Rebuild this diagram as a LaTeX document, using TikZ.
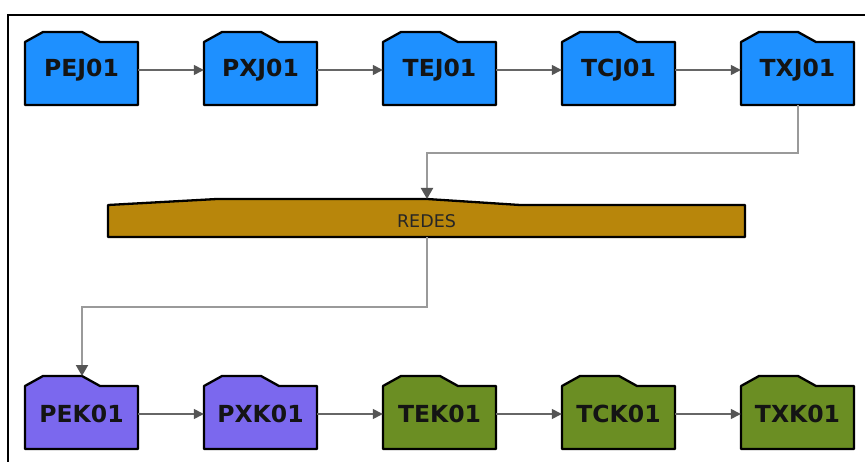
\documentclass[tikz,border=0pt]{standalone}
\usepackage{fontspec}
\setmainfont{DejaVu Sans}
\usetikzlibrary{arrows.meta,calc}
\definecolor{fblue}{HTML}{1E90FF}
\definecolor{fpurple}{HTML}{7B68EE}
\definecolor{fgreen}{HTML}{6B8E23}
\definecolor{fgold}{HTML}{B8860B}
\definecolor{linegray}{HTML}{666666}
\definecolor{conngray}{HTML}{9A9A9A}
\definecolor{tipgray}{HTML}{555555}
\tikzset{
  foldshape/.style={draw=black, line width=2.3pt, line join=round},
  foldtext/.style={font=\fontsize{23.5}{25}\bfseries\selectfont, text=black!92, minimum width=113pt, minimum height=70pt, inner sep=0pt},
  flow/.style={draw=linegray, line width=1.4pt, -{Triangle[length=10pt,width=10pt,color=tipgray]}},
  conn/.style={draw=conngray, line width=2pt, -{Triangle[length=11pt,width=12pt,color=tipgray]}},
  barshape/.style={fill=fgold, draw=black, line width=2.3pt, line join=round},
  bartext/.style={font=\fontsize{17.5}{19}\selectfont, text=black!85, minimum width=637pt, minimum height=32pt, inner sep=0pt}
}
\newcommand{\fold}[5]{%
  \filldraw[foldshape, fill=#4] (#2,#3+10) -- ++(18,-10) -- ++(39,0) -- ++(18,10) -- ++(38,0) -- ++(0,63) -- ++(-113,0) -- cycle;
  \node[foldtext] (#1) at (#2+56.5,#3+38) {#5};
  \coordinate (#1tab) at (#2+57,#3);
}
\begin{document}
\begin{tikzpicture}[x=1pt,y=-1pt]
\useasboundingbox (0,0) rectangle (865,462);
\fill[white] (0,0) rectangle (865,462);
\draw[line width=2.3pt] (8,462) -- (8,15) -- (865,15);

% top row
\fold{PEJ01}{25}{32}{fblue}{PEJ01}
\fold{PXJ01}{204}{32}{fblue}{PXJ01}
\fold{TEJ01}{383}{32}{fblue}{TEJ01}
\fold{TCJ01}{562}{32}{fblue}{TCJ01}
\fold{TXJ01}{741}{32}{fblue}{TXJ01}

% bottom row
\fold{PEK01}{25}{376}{fpurple}{PEK01}
\fold{PXK01}{204}{376}{fpurple}{PXK01}
\fold{TEK01}{383}{376}{fgreen}{TEK01}
\fold{TCK01}{562}{376}{fgreen}{TCK01}
\fold{TXK01}{741}{376}{fgreen}{TXK01}

% REDES bar
\filldraw[barshape] (108,237) -- (108,205) -- (217,199) -- (427,199) -- (520,205) -- (745,205) -- (745,237) -- cycle;
\node[bartext] (redes) at (426.5,221) {REDES};
\coordinate (redestop) at (427,199);

% connectors
\draw[flow] (PEJ01.east) -- (PXJ01.west);
\draw[flow] (PXJ01.east) -- (TEJ01.west);
\draw[flow] (TEJ01.east) -- (TCJ01.west);
\draw[flow] (TCJ01.east) -- (TXJ01.west);
\draw[flow] (PEK01.east) -- (PXK01.west);
\draw[flow] (PXK01.east) -- (TEK01.west);
\draw[flow] (TEK01.east) -- (TCK01.west);
\draw[flow] (TCK01.east) -- (TXK01.west);

\draw[conn] (TXJ01.south) -- ++(0,48) -| (redestop);
\draw[conn] (redes.south) -- ++(0,70) -| (PEK01tab);
\end{tikzpicture}
\end{document}
